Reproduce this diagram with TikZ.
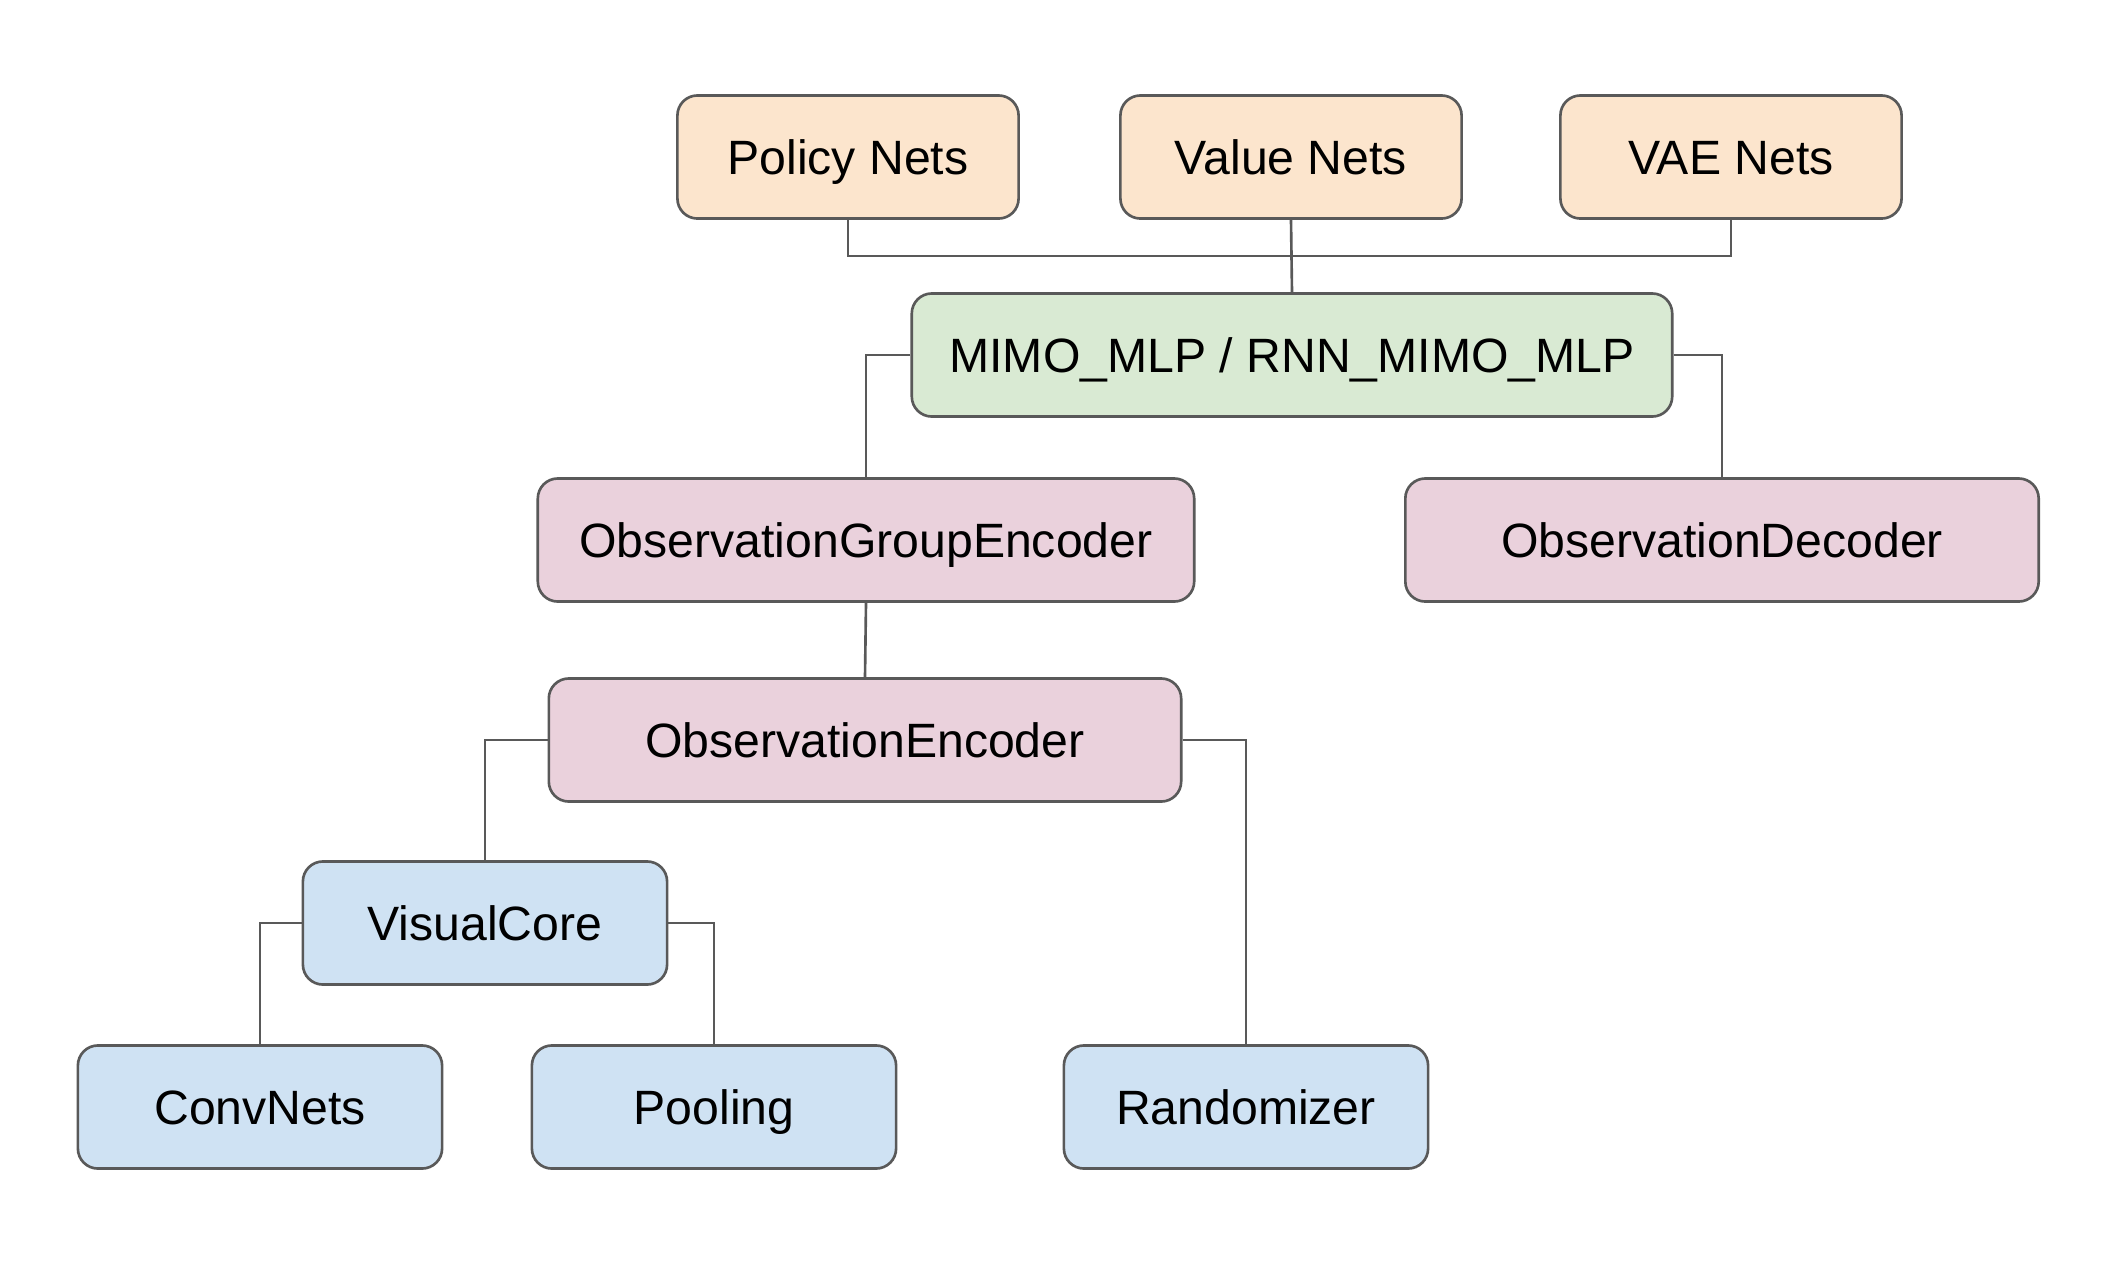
\documentclass[tikz,border=0pt]{standalone}
\usepackage{fontspec}
\setmainfont{Liberation Sans}
\usepackage{tikz}
\usetikzlibrary{calc}
\usepackage{xcolor}
\definecolor{NetOrange}{HTML}{FCE5CD}
\definecolor{MlpGreen}{HTML}{D9EAD3}
\definecolor{ObsPink}{HTML}{EAD1DC}
\definecolor{CoreBlue}{HTML}{CFE2F3}
\definecolor{EdgeGray}{HTML}{595959}

\tikzset{
  box/.style={draw=EdgeGray,line width=0.75pt,rounded corners=0.2cm,
    minimum height=1.23cm,inner sep=0pt,text height=1.85ex,text depth=0pt,
    font=\fontsize{13.7}{16}\selectfont},
  link/.style={draw=EdgeGray,line width=0.75pt}
}

\begin{document}
\begin{tikzpicture}[x=0.01cm,y=-0.01cm]
   \useasboundingbox (0,0) rectangle (2108,1266);
   % top row
   \node[box,fill=NetOrange,minimum width=3.41cm] (pol) at (848,157) {Policy Nets};
   \node[box,fill=NetOrange,minimum width=3.41cm] (val) at (1291,157) {Value Nets};
   \node[box,fill=NetOrange,minimum width=3.41cm] (vae) at (1731,157) {VAE Nets};
   \coordinate (bus) at (1291,256);

   \node[box,fill=MlpGreen,minimum width=7.60cm] (mimo) at (1292,355) {MIMO\_MLP / RNN\_MIMO\_MLP};

   \node[box,fill=ObsPink,minimum width=6.56cm] (oge) at (866,540) {ObservationGroupEncoder};
   \node[box,fill=ObsPink,minimum width=6.33cm] (odec) at (1722,540) {ObservationDecoder};
   \node[box,fill=ObsPink,minimum width=6.32cm] (oenc) at (865,740) {ObservationEncoder};

   \node[box,fill=CoreBlue,minimum width=3.64cm] (vc) at (485,923) {VisualCore};
   \node[box,fill=CoreBlue,minimum width=3.64cm] (conv) at (260,1107) {ConvNets};
   \node[box,fill=CoreBlue,minimum width=3.64cm] (pool) at (714,1107) {Pooling};
   \node[box,fill=CoreBlue,minimum width=3.64cm] (rnd) at (1246,1107) {Randomizer};

   \draw[link] (pol.south) |- (bus) -| (vae.south);
   \draw[link] (val.south) -- (mimo.north);
   \draw[link] (mimo.west) -| (oge.north);
   \draw[link] (mimo.east) -| (odec.north);
   \draw[link] (oge.south) -- (oenc.north);
   \draw[link] (oenc.west) -| (vc.north);
   \draw[link] (oenc.east) -| (rnd.north);
   \draw[link] (vc.west) -| (conv.north);
   \draw[link] (vc.east) -| (pool.north);
  \end{tikzpicture}
\end{document}
